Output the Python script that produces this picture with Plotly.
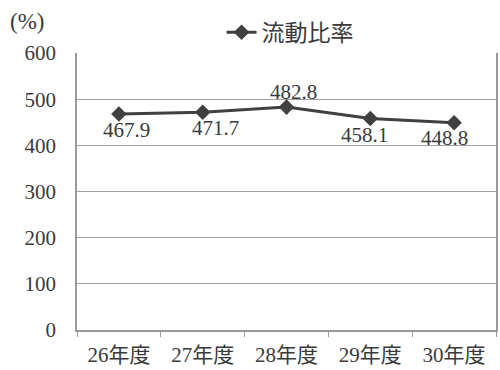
import plotly.graph_objects as go

years = ["26年度", "27年度", "28年度", "29年度", "30年度"]
current_ratio = [467.9, 471.7, 482.8, 458.1, 448.8]
y_ticks = [0, 100, 200, 300, 400, 500, 600]

# pixel offsets of each value label relative to its marker
label_dx = [8, 13, 7, -6, -10]
label_dy = [-16, -16, 15, -16, -15]

FONT = "Liberation Serif"
CJK = "Noto Sans CJK JP"
INK = "#3a3a3a"

fig = go.Figure()
fig.add_trace(go.Scatter(
    x=years, y=current_ratio, name="流動比率",
    mode="lines+markers",
    line=dict(color="#404040", width=3),
    marker=dict(symbol="diamond", size=12, color="#404040"),
))

for yr, v, dx, dy in zip(years, current_ratio, label_dx, label_dy):
    fig.add_annotation(x=yr, y=v, text=f"{v:.1f}", showarrow=False,
                       xshift=dx, yshift=dy,
                       font=dict(family=FONT, size=21, color=INK))

fig.update_layout(
    width=500, height=370,
    margin=dict(l=77, r=2, t=53, b=40),
    paper_bgcolor="white", plot_bgcolor="white",
    font=dict(family=FONT, size=21, color=INK),
    showlegend=True,
    legend=dict(orientation="h", x=0.345, y=1.075, xanchor="left", yanchor="middle",
                font=dict(family=CJK, size=23, color=INK),
                bgcolor="rgba(0,0,0,0)"),
    xaxis=dict(range=[-0.5, 4.5], showline=True, linecolor="#9a9a9a", linewidth=1.5,
               ticks="outside", tickson="boundaries", ticklen=5, tickcolor="#9a9a9a",
               showgrid=False, ticklabelstandoff=5,
               tickfont=dict(family=FONT + ", " + CJK, size=21)),
    yaxis=dict(range=[0, 600], tickvals=y_ticks, showline=True, linecolor="#9a9a9a",
               linewidth=1.5, mirror=True, showgrid=True, gridcolor="#a0a0a0", gridwidth=1,
               zeroline=False, ticks="", ticklabelstandoff=15,
               tickfont=dict(family=FONT, size=21)),
)
fig.add_annotation(text="(%)", xref="paper", yref="paper", x=-0.165, y=1.115,
                   xanchor="left", yanchor="middle", showarrow=False,
                   font=dict(family=FONT, size=23, color=INK))

fig.write_html("out.html")
